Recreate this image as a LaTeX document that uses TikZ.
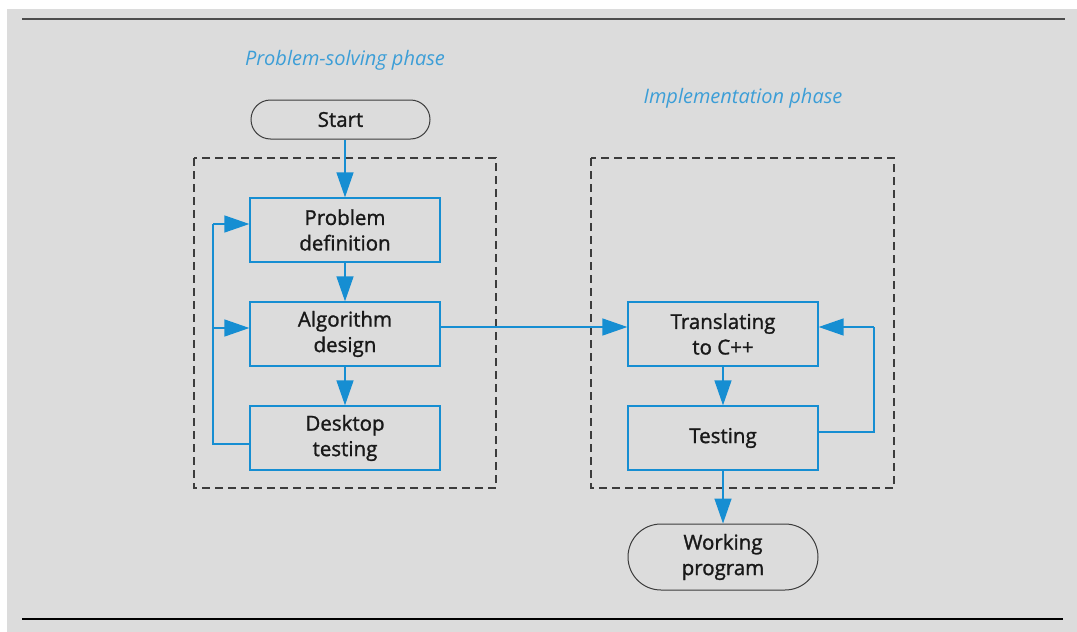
\documentclass[tikz,border=0pt]{standalone}
\usepackage{fontspec}
\setmainfont{Open Sans}
\newfontfamily\boxfont{Open Sans}[FakeBold=1.3]
\usetikzlibrary{arrows.meta,shapes.misc}
\definecolor{flowblue}{RGB}{22,142,210}
\definecolor{phaseblue}{RGB}{60,158,215}
\definecolor{panel}{RGB}{220,220,220}
\definecolor{frame}{RGB}{60,60,60}
\tikzset{
  stepbox/.style={draw=flowblue, line width=1.3pt, fill=panel, minimum width=190pt,
    minimum height=64pt, inner sep=0pt, align=center, font=\boxfont\fontsize{20.5}{25.5}\selectfont, text=black!90},
  terminal/.style={draw=frame, line width=1pt, rounded rectangle, fill=panel, inner sep=0pt,
    align=center, font=\boxfont\fontsize{20.5}{25.5}\selectfont, text=black!90},
  phase/.style={draw=frame, line width=1.3pt, dash pattern=on 8pt off 5pt},
  flow/.style={draw=flowblue, line width=1.4pt, -{Triangle[length=25pt,width=17pt]}},
  plainflow/.style={draw=flowblue, line width=1.4pt},
  phaselabel/.style={font=\itshape\fontsize{20}{24}\selectfont, text=phaseblue}
}
\begin{document}
\begin{tikzpicture}[x=1pt,y=-1pt]
  % page area and grey panel
  \useasboundingbox (0,0) rectangle (1077,632);
  \fill[white] (0,0) rectangle (1077,632);
  \fill[panel] (7,9) rectangle (1077,632);
  \draw[line width=1.8pt, black!70] (22,19) -- (1065,19);
  \draw[line width=1.8pt, black] (22,619) -- (1063,619);

  % phase frames
  \draw[phase] (194,158) rectangle (496,488);
  \draw[phase] (591,158) rectangle (894,488);

  % phase labels
  \node[phaselabel] (lblps) at (345,60) {Problem-solving phase};
  \node[phaselabel] (lblimp) at (743,98) {Implementation phase};

  % terminals
  \node[terminal, minimum width=179pt, minimum height=39pt] (start) at (340.5,119.5) {Start};
  \node[terminal, minimum width=190pt, minimum height=66pt] (work) at (723,557) {Working\\program};

  % process steps
  \node[stepbox] (pd) at (345,230) {Problem\\definition};
  \node[stepbox] (ad) at (345,334) {Algorithm\\design};
  \node[stepbox] (dt) at (345,438) {Desktop\\testing};
  \node[stepbox] (tr) at (723,334) {Translating\\to C++};
  \node[stepbox] (te) at (723,438) {Testing};

  % bend points of the feedback loops
  \coordinate (lbot) at (213,444);
  \coordinate (lmid) at (213,328);
  \coordinate (ltop) at (213,224);
  \coordinate (rbot) at (874,432);
  \coordinate (rtop) at (874,327);
  \coordinate (hand) at (500,327);

  % main flow
  \draw[flow] (start.south -| pd.north) -- (pd.north);
  \draw[flow] (pd) -- (ad);
  \draw[flow] (ad) -- (dt);
  \draw[flow] (ad.east |- hand) -- (tr.west |- hand);
  \draw[flow] (tr) -- (te);
  \draw[flow] (te) -- (work);

  % desktop testing feeds back to definition and design
  \draw[plainflow] (dt.west |- lbot) -- (lbot) -- (ltop);
  \draw[flow] (ltop) -- (pd.west |- ltop);
  \draw[flow] (lmid) -- (ad.west |- lmid);

  % testing feeds back to translation
  \draw[plainflow] (te.east |- rbot) -- (rbot) -- (rtop);
  \draw[flow] (rtop) -- (tr.east |- rtop);
\end{tikzpicture}
\end{document}
